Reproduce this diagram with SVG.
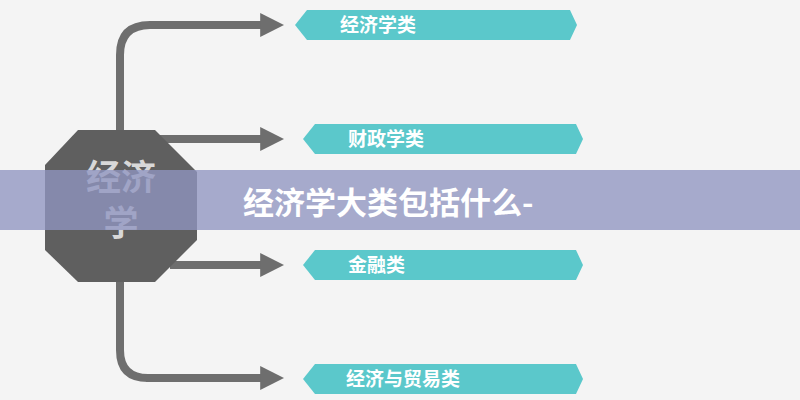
<svg xmlns="http://www.w3.org/2000/svg" width="800" height="400" viewBox="0 0 800 400">
<style>
.ln{fill:none;stroke:#6e6e6e;stroke-width:8}
.ban{fill:#5bc8cb}
.bt{font-family:"Noto Sans CJK SC",sans-serif;font-weight:bold;font-size:19px;fill:#fff}
</style>
<defs><marker id="ah" viewBox="0 0 10 10" refX="2" refY="5" markerWidth="3" markerHeight="3.4" orient="auto" markerUnits="strokeWidth"><path d="M0,0 L10,5 L0,10 Z" fill="#6e6e6e"/></marker></defs>
<rect width="800" height="400" fill="#f4f4f4"/>
<g id="connectors">
<path class="ln" d="M150,25 Q120,25 120,55 V350 Q120,378 148,378"/>
<path class="ln" d="M150,25 H265" marker-end="url(#ah)"/>
<path class="ln" d="M155,139 H265" marker-end="url(#ah)"/>
<path class="ln" d="M170,265 H265" marker-end="url(#ah)"/>
<path class="ln" d="M146,378 H265" marker-end="url(#ah)"/>
</g>
<g id="center"><polygon points="78,130 155,130 197,172 197,240 155,282 78,282 45,250 45,165" fill="#5f5f5f"/>
<text x="121" y="190" text-anchor="middle" font-family="Noto Sans CJK SC,sans-serif" font-weight="bold" font-size="35" fill="#d8d8d8">经济</text>
<text x="121" y="236" text-anchor="middle" font-family="Noto Sans CJK SC,sans-serif" font-weight="bold" font-size="35" fill="#d8d8d8">学</text></g>
<g id="n1"><polygon class="ban" points="307,10 570,10 577,25 570,40 307,40 295,25"/><text class="bt" x="340" y="32">经济学类</text></g>
<g id="n2"><polygon class="ban" points="315,124 576,124 583,139 576,154 315,154 303,139"/><text class="bt" x="348" y="146">财政学类</text></g>
<g id="n3"><polygon class="ban" points="315,250 576,250 583,265 576,280 315,280 303,265"/><text class="bt" x="348" y="272">金融类</text></g>
<g id="n4"><polygon class="ban" points="315,364 576,364 583,379 576,394 315,394 303,379"/><text class="bt" x="346" y="386">经济与贸易类</text></g>
<g id="overlay"><rect x="0" y="170" width="800" height="60" fill="#8f95c0" opacity="0.78"/>
<text x="243" y="214" font-family="Noto Sans CJK SC,sans-serif" font-weight="bold" font-size="31" fill="#fff">经济学大类包括什么-</text></g>
</svg>
